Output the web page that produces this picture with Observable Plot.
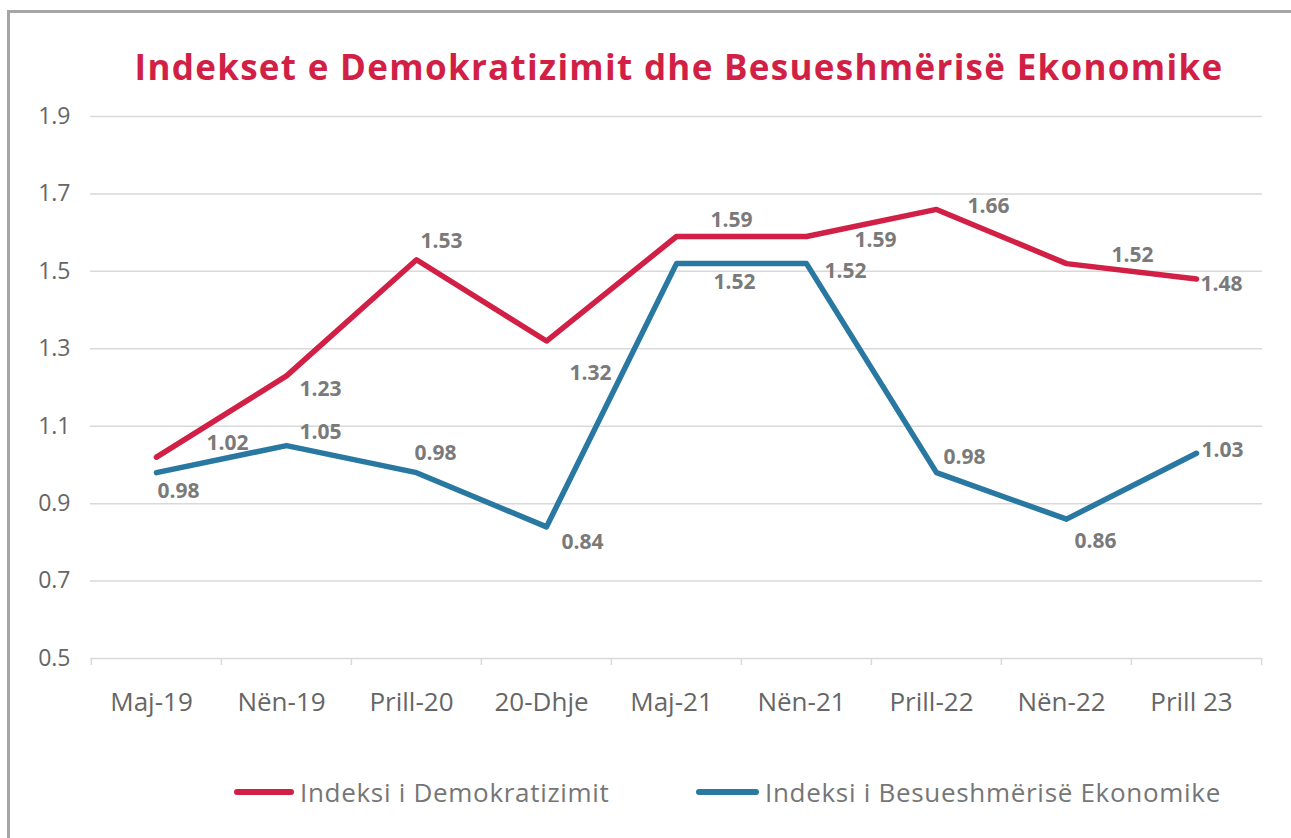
<!DOCTYPE html>
<html><head><meta charset="utf-8">
<script src="https://cdn.jsdelivr.net/npm/d3@7"></script>
<script src="https://cdn.jsdelivr.net/npm/@observablehq/plot@0.6"></script>
<style>
body{margin:0;background:#fff;font-family:"Open Sans",sans-serif;width:1291px;height:838px;overflow:hidden;position:relative}
#frame{position:absolute;left:7px;top:10px;width:1400px;height:900px;border-left:3px solid #a6a6a6;border-top:3px solid #a6a6a6;box-sizing:border-box}
#title{position:absolute;left:0;width:1358px;top:45px;line-height:44px;text-align:center;font-size:35px;letter-spacing:1.3px;font-weight:700;color:#d11f45;white-space:nowrap}
#chart{position:absolute;left:0;top:95px}
.leg{position:absolute;top:776px;height:32px;line-height:32px;font-size:26px;letter-spacing:0.7px;color:#767676;white-space:nowrap}
.sw{position:absolute;height:6px;border-radius:3px}
</style></head>
<body>
<div id="frame"></div>
<div id="title"></div>
<div id="chart"></div>
<div id="legend"></div>
<script>
const chartTitle = "Indekset e Demokratizimit dhe Besueshmërisë Ekonomike";
const categories = ["Maj-19","Nën-19","Prill-20","20-Dhje","Maj-21","Nën-21","Prill-22","Nën-22","Prill 23"];
const demokratizimi = [1.02,1.23,1.53,1.32,1.59,1.59,1.66,1.52,1.48];
const besueshmeria = [0.98,1.05,0.98,0.84,1.52,1.52,0.98,0.86,1.03];
const yTicks = [0.5,0.7,0.9,1.1,1.3,1.5,1.7,1.9];
const seriesNames = ["Indeksi i Demokratizimit","Indeksi i Besueshmërisë Ekonomike"];
const seriesColors = ["#d11f45","#2878a1"];
// label placement (pixel offsets from each point), per series
const demoLabelOffsets = [[71,-14],[34,13],[25,-18],[44,32],[55,-16],[69,4],[52,-3],[66,-8],[25,5]];
const besLabelOffsets = [[22,19],[34,-13],[19,-19],[36,15],[58,19],[39,8],[28,-15],[29,22],[26,-3]];

document.getElementById("title").textContent = chartTitle;

const W = 1291, H = 633, mL = 90, mR = 29, mT = 21, mB = 70;
const plotW = W - mL - mR, plotH = H - mT - mB;
const half = plotW / categories.length / 2;

const seriesValues = [demokratizimi, besueshmeria];
const offsets = [demoLabelOffsets, besLabelOffsets];
const rows = seriesValues.map((vals, s) => categories.map((c, i) => ({cat: c, value: vals[i], s})));

const marks = [
  Plot.gridY(yTicks, {stroke: "#d9d9d9", strokeOpacity: 1, strokeWidth: 1.5}),
  Plot.ruleX(categories, {x: d => d, dx: -half, insetTop: plotH, insetBottom: -7, stroke: "#d9d9d9", strokeWidth: 1.5}),
  Plot.ruleX([categories[categories.length - 1]], {x: d => d, dx: half, insetTop: plotH, insetBottom: -7, stroke: "#d9d9d9", strokeWidth: 1.5}),
  Plot.axisX({tickSize: 0, tickPadding: 34, dx: -5, fontSize: 26, label: null, color: "#666"}),
  Plot.axisY({ticks: yTicks, tickSize: 0, tickPadding: 20, fontSize: 23, label: null, color: "#666"})
];
rows.forEach((r, s) => {
  marks.push(Plot.line(r, {x: "cat", y: "value", stroke: seriesColors[s], strokeWidth: 5.5, strokeLinecap: "round", strokeLinejoin: "round"}));
});
rows.forEach((r, s) => {
  r.forEach((d, i) => {
    marks.push(Plot.text([d], {x: "cat", y: "value", text: d => d.value.toFixed(2), dx: offsets[s][i][0], dy: offsets[s][i][1], fill: "#7a7a7a", fontWeight: "bold", fontSize: 21}));
  });
});

const plot = Plot.plot({
  width: W, height: H,
  marginLeft: mL, marginRight: mR, marginTop: mT, marginBottom: mB,
  style: {fontFamily: "'Open Sans', sans-serif", background: "transparent", overflow: "visible"},
  x: {type: "band", domain: categories, padding: 0},
  y: {domain: [0.5, 1.9]},
  marks
});
document.getElementById("chart").appendChild(plot);

// legend
const legend = document.getElementById("legend");
const legPos = [[234, 300], [696, 765]];
seriesNames.forEach((name, s) => {
  const sw = document.createElement("div");
  sw.className = "sw";
  sw.style.left = legPos[s][0] + "px";
  sw.style.top = "789px";
  sw.style.width = (legPos[s][1] - legPos[s][0] - 6) + "px";
  sw.style.background = seriesColors[s];
  legend.appendChild(sw);
  const t = document.createElement("div");
  t.className = "leg";
  t.style.left = legPos[s][1] + "px";
  t.textContent = name;
  legend.appendChild(t);
});
</script>
</body></html>
